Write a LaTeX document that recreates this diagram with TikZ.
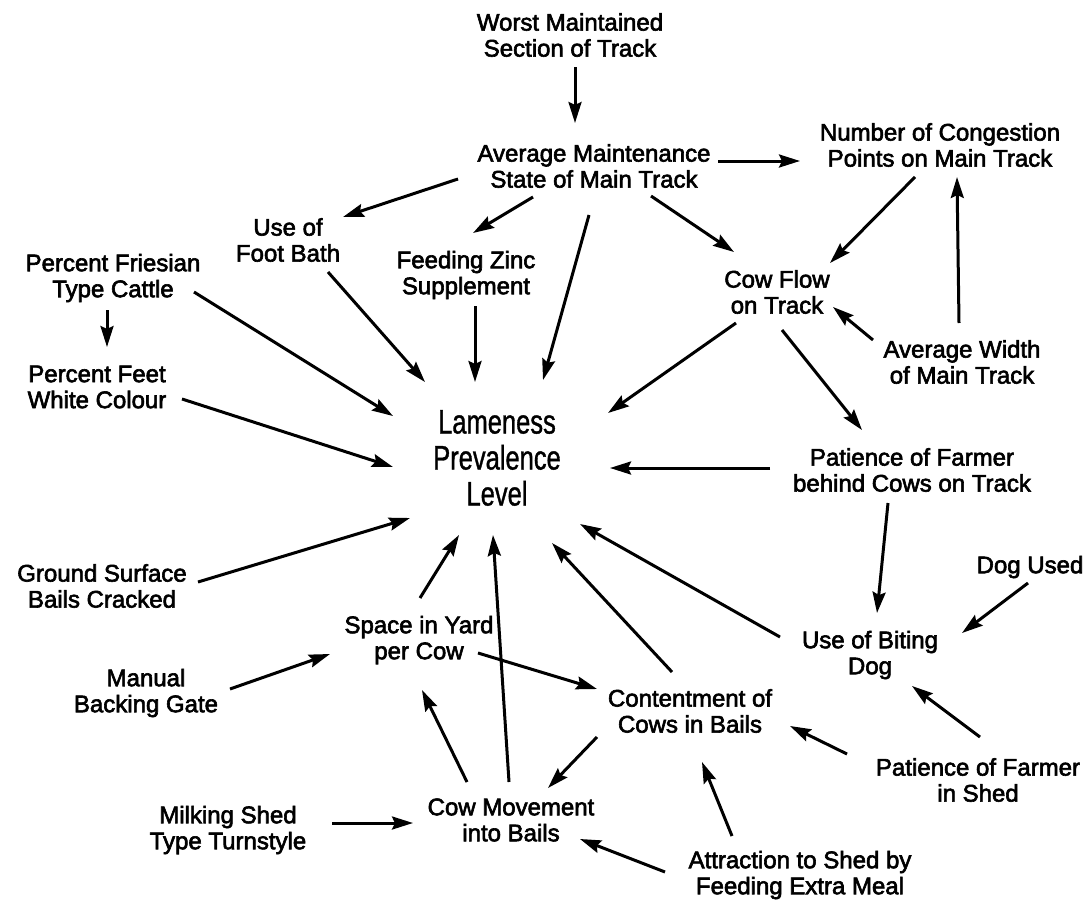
\documentclass[tikz,border=0pt]{standalone}
\usepackage{fontspec}
\setmainfont{Liberation Sans}
\newfontfamily\lblfont{Liberation Sans}[FakeBold=2.5]
\newfontfamily\condfont{Liberation Sans}[FakeStretch=0.75,FakeBold=1]
\usetikzlibrary{arrows.meta}
\tikzset{
  lbl/.style={align=center, inner sep=0pt, font={\lblfont\fontsize{24}{26}\selectfont}},
  bigl/.style={align=center, inner sep=0pt, font={\condfont\fontsize{34}{36}\selectfont}},
  arr/.style={line width=3pt, -{Stealth[length=21pt,width=13pt,inset=3pt]}}
}
\begin{document}
\begin{tikzpicture}[x=1pt,y=-1pt]
\fill[white] (0,0) rectangle (1092,905);
\useasboundingbox (0,0) rectangle (1092,905);
% nodes
\node[lbl] (worst) at (570,35) {Worst Maintained\\Section of Track};
\node[lbl] (avgm) at (594,166) {Average Maintenance\\State of Main Track};
\node[lbl] (cong) at (940,145) {Number of Congestion\\Points on Main Track};
\node[lbl] (foot) at (288,240) {Use of\\Foot Bath};
\node[lbl] (zinc) at (466,275) {Feeding Zinc\\Supplement};
\node[lbl] (fries) at (113,278) {Percent Friesian\\Type Cattle};
\node[lbl] (cowflow) at (777,292) {Cow Flow\\on Track};
\node[lbl] (feet) at (97,387) {Percent Feet\\White Colour};
\node[lbl] (width) at (962,362) {Average Width\\of Main Track};
\node[bigl] (lame) at (497,458) {Lameness\\Prevalence\\Level};
\node[lbl] (ptrack) at (912,470) {Patience of Farmer\\behind Cows on Track};
\node[lbl] (ground) at (102,586) {Ground Surface\\Bails Cracked};
\node[lbl] (dogused) at (1030,567) {Dog Used};
\node[lbl] (biting) at (870,655) {Use of Biting\\Dog};
\node[lbl] (space) at (419,640) {Space in Yard\\per Cow};
\node[lbl] (manual) at (146,693) {Manual\\Backing Gate};
\node[lbl] (content) at (690,711) {Contentment of\\Cows in Bails};
\node[lbl] (pshed) at (978,780) {Patience of Farmer\\in Shed};
\node[lbl] (milking) at (228,830) {Milking Shed\\Type Turnstyle};
\node[lbl] (cowmove) at (511,820) {Cow Movement\\into Bails};
\node[lbl] (attract) at (800,875) {Attraction to Shed by\\Feeding Extra Meal};
% connectors
\draw[arr] ([shift={(5,32)}]worst.center) -- ([shift={(-19,-43)}]avgm.center);
\draw[arr] ([shift={(124,-5)}]avgm.center) -- ([shift={(-140,16)}]cong.center);
\draw[arr] ([shift={(-136,13)}]avgm.center) -- ([shift={(55,-23)}]foot.center);
\draw[arr] ([shift={(-61,31)}]avgm.center) -- ([shift={(7,-42)}]zinc.center);
\draw[arr] ([shift={(-5,49)}]avgm.center) -- ([shift={(46,-78)}]lame.center);
\draw[arr] ([shift={(57,30)}]avgm.center) -- ([shift={(-43,-40)}]cowflow.center);
\draw[arr] ([shift={(-25,32)}]cong.center) -- ([shift={(53,-29)}]cowflow.center);
\draw[arr] ([shift={(-3,-39)}]width.center) -- ([shift={(17,32)}]cong.center);
\draw[arr] ([shift={(-89,-22)}]width.center) -- ([shift={(56,15)}]cowflow.center);
\draw[arr] ([shift={(40,32)}]foot.center) -- ([shift={(-72,-76)}]lame.center);
\draw[arr] ([shift={(9,31)}]zinc.center) -- ([shift={(-22,-76)}]lame.center);
\draw[arr] ([shift={(-6,32)}]fries.center) -- ([shift={(10,-40)}]feet.center);
\draw[arr] ([shift={(81,14)}]fries.center) -- ([shift={(-104,-42)}]lame.center);
\draw[arr] ([shift={(85,12)}]feet.center) -- ([shift={(-104,9)}]lame.center);
\draw[arr] ([shift={(-41,31)}]cowflow.center) -- ([shift={(111,-45)}]lame.center);
\draw[arr] ([shift={(5,38)}]cowflow.center) -- ([shift={(-50,-40)}]ptrack.center);
\draw[arr] ([shift={(-142,-2)}]ptrack.center) -- ([shift={(113,10)}]lame.center);
\draw[arr] ([shift={(-24,33)}]ptrack.center) -- ([shift={(7,-42)}]biting.center);
\draw[arr] ([shift={(96,-4)}]ground.center) -- ([shift={(-87,60)}]lame.center);
\draw[arr] ([shift={(-2,16)}]dogused.center) -- ([shift={(92,-22)}]biting.center);
\draw[arr] ([shift={(-90,-18)}]biting.center) -- ([shift={(83,66)}]lame.center);
\draw[arr] ([shift={(2,-43)}]pshed.center) -- ([shift={(42,31)}]biting.center);
\draw[arr] ([shift={(1,-42)}]space.center) -- ([shift={(-38,77)}]lame.center);
\draw[arr] ([shift={(59,13)}]space.center) -- ([shift={(-93,-22)}]content.center);
\draw[arr] ([shift={(84,-4)}]manual.center) -- ([shift={(-89,14)}]space.center);
\draw[arr] ([shift={(-18,-39)}]content.center) -- ([shift={(55,85)}]lame.center);
\draw[arr] ([shift={(-93,26)}]content.center) -- ([shift={(37,-32)}]cowmove.center);
\draw[arr] ([shift={(-44,-38)}]cowmove.center) -- ([shift={(3,50)}]space.center);
\draw[arr] ([shift={(-2,-38)}]cowmove.center) -- ([shift={(-4,77)}]lame.center);
\draw[arr] ([shift={(104,-7)}]milking.center) -- ([shift={(-98,3)}]cowmove.center);
\draw[arr] ([shift={(-135,-3)}]attract.center) -- ([shift={(69,19)}]cowmove.center);
\draw[arr] ([shift={(-68,-39)}]attract.center) -- ([shift={(12,51)}]content.center);
\draw[arr] ([shift={(-131,-26)}]pshed.center) -- ([shift={(100,15)}]content.center);
\end{tikzpicture}
\end{document}
